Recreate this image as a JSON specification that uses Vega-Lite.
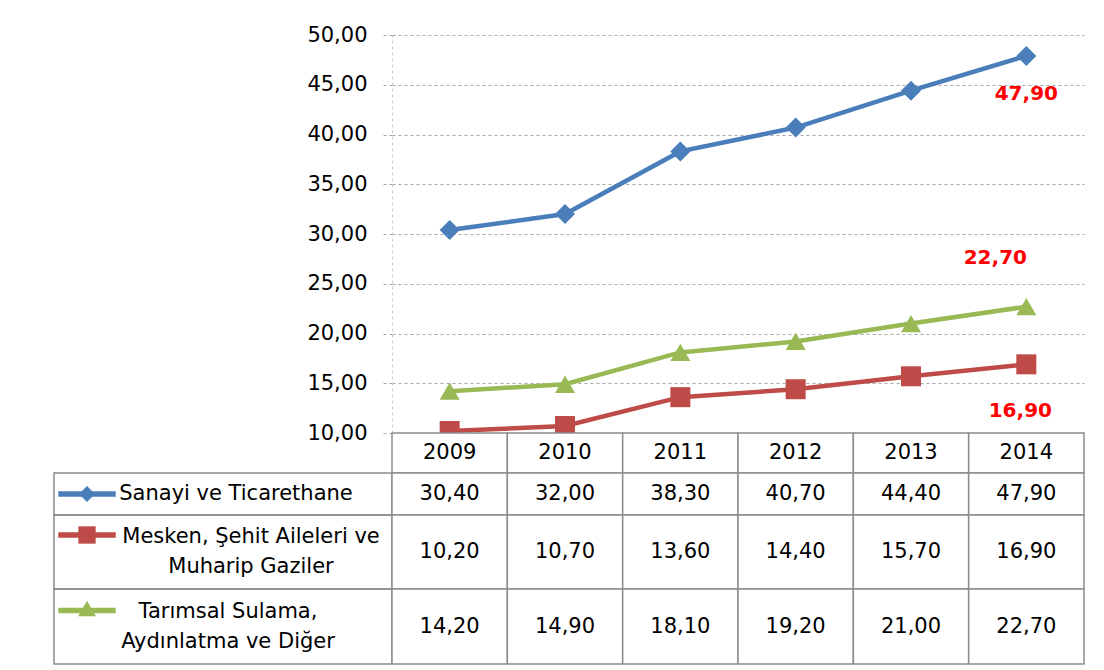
{
  "$schema": "https://vega.github.io/schema/vega-lite/v6.json",
  "padding": {"left": 53, "top": 24, "right": 0, "bottom": 0},
  "background": "white",
  "config": {
    "font": "DejaVu Sans",
    "view": {"stroke": null},
    "text": {"font": "DejaVu Sans"}
  },
  "datasets": {
    "vals": [
      {"year": "2009", "series": "Sanayi ve Ticarethane", "value": 30.4},
      {"year": "2010", "series": "Sanayi ve Ticarethane", "value": 32.0},
      {"year": "2011", "series": "Sanayi ve Ticarethane", "value": 38.3},
      {"year": "2012", "series": "Sanayi ve Ticarethane", "value": 40.7},
      {"year": "2013", "series": "Sanayi ve Ticarethane", "value": 44.4},
      {"year": "2014", "series": "Sanayi ve Ticarethane", "value": 47.9},
      {"year": "2009", "series": "Mesken, Şehit Aileleri ve Muharip Gaziler", "value": 10.2},
      {"year": "2010", "series": "Mesken, Şehit Aileleri ve Muharip Gaziler", "value": 10.7},
      {"year": "2011", "series": "Mesken, Şehit Aileleri ve Muharip Gaziler", "value": 13.6},
      {"year": "2012", "series": "Mesken, Şehit Aileleri ve Muharip Gaziler", "value": 14.4},
      {"year": "2013", "series": "Mesken, Şehit Aileleri ve Muharip Gaziler", "value": 15.7},
      {"year": "2014", "series": "Mesken, Şehit Aileleri ve Muharip Gaziler", "value": 16.9},
      {"year": "2009", "series": "Tarımsal Sulama, Aydınlatma ve Diğer", "value": 14.2},
      {"year": "2010", "series": "Tarımsal Sulama, Aydınlatma ve Diğer", "value": 14.9},
      {"year": "2011", "series": "Tarımsal Sulama, Aydınlatma ve Diğer", "value": 18.1},
      {"year": "2012", "series": "Tarımsal Sulama, Aydınlatma ve Diğer", "value": 19.2},
      {"year": "2013", "series": "Tarımsal Sulama, Aydınlatma ve Diğer", "value": 21.0},
      {"year": "2014", "series": "Tarımsal Sulama, Aydınlatma ve Diğer", "value": 22.7}
    ],
    "legend": [
      {"series": "Sanayi ve Ticarethane", "text": "Sanayi ve Ticarethane"},
      {"series": "Mesken, Şehit Aileleri ve Muharip Gaziler", "text": "Mesken, Şehit Aileleri ve\nMuharip Gaziler"},
      {"series": "Tarımsal Sulama, Aydınlatma ve Diğer", "text": "Tarımsal Sulama,\nAydınlatma ve Diğer"}
    ]
  },
  "columns": 2,
  "spacing": 0,
  "bounds": "flush",
  "concat": [
    {
      "width": 338, "height": 398,
      "data": {"name": "legend"},
      "transform": [{"filter": "datum.series == 'Sanayi ve Ticarethane'"}],
      "mark": {"type": "text"},
      "encoding": {"text": {"value": ""}}
    },
    {
      "width": 692, "height": 398,
      "data": {"name": "vals"},
      "transform": [{"calculate": "replace(format(datum.value, '.2f'), '.', ',')", "as": "label"}],
      "encoding": {
        "x": {"field": "year", "type": "ordinal", "scale": {"type": "point", "padding": 0.5}, "axis": null},
        "y": {
          "field": "value", "type": "quantitative",
          "scale": {"domain": [10, 50], "nice": false, "zero": false},
          "axis": {
            "values": [10, 15, 20, 25, 30, 35, 40, 45, 50],
            "labelExpr": "replace(format(datum.value, '.2f'), '.', ',')",
            "title": null,
            "grid": true, "gridColor": "#a6a6a6", "gridDash": [3, 3], "gridWidth": 1,
            "domainColor": "#cccccc", "domainDash": [3, 3],
            "tickColor": "#a6a6a6", "tickDash": [3, 3], "tickSize": 9,
            "labelPadding": 16, "labelFontSize": 21, "labelColor": "black",
            "labelFont": "DejaVu Sans", "labelFlush": false, "labelOverlap": false
          }
        }
      },
      "layer": [
        {
          "mark": {"type": "line", "strokeWidth": 4.5},
          "encoding": {
            "color": {
              "field": "series", "type": "nominal",
              "scale": {
                "domain": ["Sanayi ve Ticarethane", "Mesken, Şehit Aileleri ve Muharip Gaziler", "Tarımsal Sulama, Aydınlatma ve Diğer"],
                "range": ["#4A7EBB", "#BE4B48", "#98B954"]
              },
              "legend": null
            }
          }
        },
        {
          "mark": {"type": "point", "filled": true, "size": 400, "opacity": 1},
          "encoding": {
            "color": {
              "field": "series", "type": "nominal",
              "scale": {
                "domain": ["Sanayi ve Ticarethane", "Mesken, Şehit Aileleri ve Muharip Gaziler", "Tarımsal Sulama, Aydınlatma ve Diğer"],
                "range": ["#4A7EBB", "#BE4B48", "#98B954"]
              },
              "legend": null
            },
            "shape": {
              "field": "series", "type": "nominal",
              "scale": {
                "domain": ["Sanayi ve Ticarethane", "Mesken, Şehit Aileleri ve Muharip Gaziler", "Tarımsal Sulama, Aydınlatma ve Diğer"],
                "range": ["diamond", "square", "triangle-up"]
              },
              "legend": null
            }
          }
        },
        {
          "transform": [{"filter": "datum.year == '2014' && datum.series == 'Sanayi ve Ticarethane'"}],
          "mark": {"type": "text", "dy": 38, "dx": 0, "color": "#FF0000", "fontWeight": "bold", "fontSize": 20},
          "encoding": {"text": {"field": "label"}}
        },
        {
          "transform": [{"filter": "datum.year == '2014' && datum.series == 'Tarımsal Sulama, Aydınlatma ve Diğer'"}],
          "mark": {"type": "text", "dy": -49, "dx": -31, "color": "#FF0000", "fontWeight": "bold", "fontSize": 20},
          "encoding": {"text": {"field": "label"}}
        },
        {
          "transform": [{"filter": "datum.year == '2014' && datum.series == 'Mesken, Şehit Aileleri ve Muharip Gaziler'"}],
          "mark": {"type": "text", "dy": 47, "dx": -6, "color": "#FF0000", "fontWeight": "bold", "fontSize": 20},
          "encoding": {"text": {"field": "label"}}
        }
      ]
    },
    {
      "width": 338, "height": 40,
      "data": {"name": "legend"},
      "transform": [{"filter": "datum.series == 'Sanayi ve Ticarethane'"}],
      "mark": {"type": "text"},
      "encoding": {"text": {"value": ""}}
    },
    {
      "width": 692, "height": 40,
      "data": {"name": "vals"},
      "transform": [{"filter": "datum.series == 'Sanayi ve Ticarethane'"}],
      "encoding": {"x": {"field": "year", "type": "ordinal", "scale": {"type": "band", "paddingInner": 0, "paddingOuter": 0}, "axis": null}},
      "layer": [
        {"mark": {"type": "rect", "fill": "white", "stroke": "#8c8c8c", "strokeWidth": 1.5}},
        {"mark": {"type": "text", "fontSize": 21, "color": "black"}, "encoding": {"x": {"field": "year", "type": "ordinal", "bandPosition": 0.5, "axis": null}, "text": {"field": "year"}}}
      ]
    },
    {
      "width": 338, "height": 42,
      "view": {"stroke": "#8c8c8c", "strokeWidth": 1.5},
      "data": {"name": "legend"},
      "transform": [{"filter": "datum.series == 'Sanayi ve Ticarethane'"}],
      "layer": [
        {"mark": {"type": "point", "shape": "M-1,-0.1H1V0.1H-1Z", "size": 3300, "filled": true, "opacity": 1, "color": "#4A7EBB", "xOffset": -136, "yOffset": 0}, "encoding": {}},
        {"mark": {"type": "point", "shape": "diamond", "size": 260, "filled": true, "opacity": 1, "color": "#4A7EBB", "xOffset": -136, "yOffset": 0}, "encoding": {}},
        {"mark": {"type": "text", "fontSize": 21, "color": "black", "dx": 13, "lineBreak": "\n", "lineHeight": 30}, "encoding": {"text": {"field": "text"}}}
      ]
    },
    {
      "width": 692, "height": 42,
      "data": {"name": "vals"},
      "transform": [{"filter": "datum.series == 'Sanayi ve Ticarethane'"}, {"calculate": "replace(format(datum.value, '.2f'), '.', ',')", "as": "label"}],
      "encoding": {"x": {"field": "year", "type": "ordinal", "scale": {"type": "band", "paddingInner": 0, "paddingOuter": 0}, "axis": null}},
      "layer": [
        {"mark": {"type": "rect", "fill": "white", "stroke": "#8c8c8c", "strokeWidth": 1.5}},
        {"mark": {"type": "text", "fontSize": 21, "color": "black"}, "encoding": {"x": {"field": "year", "type": "ordinal", "bandPosition": 0.5, "axis": null}, "text": {"field": "label"}}}
      ]
    },
    {
      "width": 338, "height": 74,
      "view": {"stroke": "#8c8c8c", "strokeWidth": 1.5},
      "data": {"name": "legend"},
      "transform": [{"filter": "datum.series == 'Mesken, Şehit Aileleri ve Muharip Gaziler'"}],
      "layer": [
        {"mark": {"type": "point", "shape": "M-1,-0.1H1V0.1H-1Z", "size": 3300, "filled": true, "opacity": 1, "color": "#BE4B48", "xOffset": -136, "yOffset": -17}, "encoding": {}},
        {"mark": {"type": "point", "shape": "square", "size": 300, "filled": true, "opacity": 1, "color": "#BE4B48", "xOffset": -136, "yOffset": -17}, "encoding": {}},
        {"mark": {"type": "text", "fontSize": 21, "color": "black", "dx": 28, "dy": -15, "lineBreak": "\n", "lineHeight": 30}, "encoding": {"text": {"field": "text"}}}
      ]
    },
    {
      "width": 692, "height": 74,
      "data": {"name": "vals"},
      "transform": [{"filter": "datum.series == 'Mesken, Şehit Aileleri ve Muharip Gaziler'"}, {"calculate": "replace(format(datum.value, '.2f'), '.', ',')", "as": "label"}],
      "encoding": {"x": {"field": "year", "type": "ordinal", "scale": {"type": "band", "paddingInner": 0, "paddingOuter": 0}, "axis": null}},
      "layer": [
        {"mark": {"type": "rect", "fill": "white", "stroke": "#8c8c8c", "strokeWidth": 1.5}},
        {"mark": {"type": "text", "fontSize": 21, "color": "black"}, "encoding": {"x": {"field": "year", "type": "ordinal", "bandPosition": 0.5, "axis": null}, "text": {"field": "label"}}}
      ]
    },
    {
      "width": 338, "height": 75,
      "view": {"stroke": "#8c8c8c", "strokeWidth": 1.5},
      "data": {"name": "legend"},
      "transform": [{"filter": "datum.series == 'Tarımsal Sulama, Aydınlatma ve Diğer'"}],
      "layer": [
        {"mark": {"type": "point", "shape": "M-1,-0.1H1V0.1H-1Z", "size": 3300, "filled": true, "opacity": 1, "color": "#98B954", "xOffset": -136, "yOffset": -16}, "encoding": {}},
        {"mark": {"type": "point", "shape": "triangle-up", "size": 320, "filled": true, "opacity": 1, "color": "#98B954", "xOffset": -136, "yOffset": -18}, "encoding": {}},
        {"mark": {"type": "text", "fontSize": 21, "color": "black", "dx": 5, "dy": -15, "lineBreak": "\n", "lineHeight": 30}, "encoding": {"text": {"field": "text"}}}
      ]
    },
    {
      "width": 692, "height": 75,
      "data": {"name": "vals"},
      "transform": [{"filter": "datum.series == 'Tarımsal Sulama, Aydınlatma ve Diğer'"}, {"calculate": "replace(format(datum.value, '.2f'), '.', ',')", "as": "label"}],
      "encoding": {"x": {"field": "year", "type": "ordinal", "scale": {"type": "band", "paddingInner": 0, "paddingOuter": 0}, "axis": null}},
      "layer": [
        {"mark": {"type": "rect", "fill": "white", "stroke": "#8c8c8c", "strokeWidth": 1.5}},
        {"mark": {"type": "text", "fontSize": 21, "color": "black"}, "encoding": {"x": {"field": "year", "type": "ordinal", "bandPosition": 0.5, "axis": null}, "text": {"field": "label"}}}
      ]
    }
  ]
}
